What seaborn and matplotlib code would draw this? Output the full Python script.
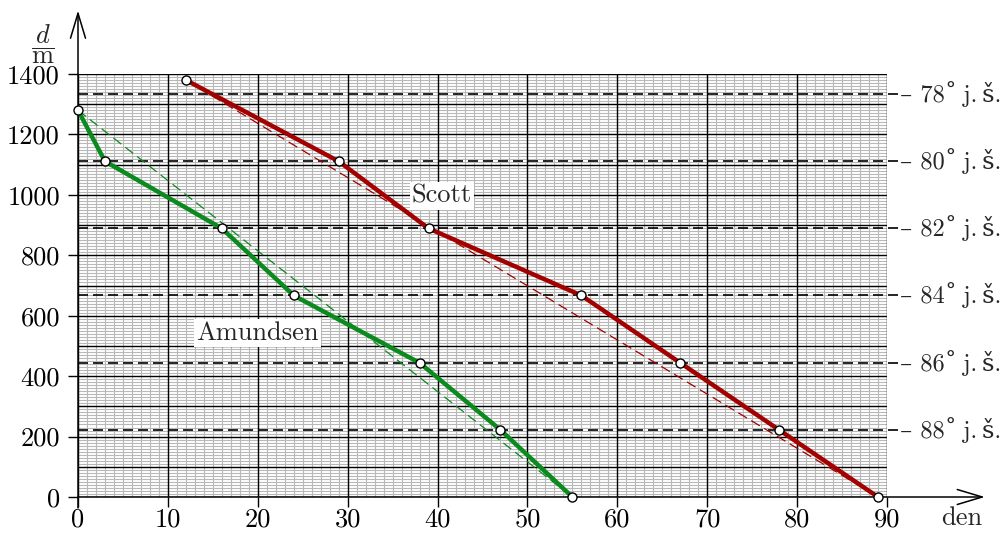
import numpy as np
import pandas as pd
import matplotlib
matplotlib.use("Agg")
from matplotlib import pyplot as plt
import seaborn as sns

# route data (day, distance to pole)
amundsen_day = [0, 3, 16, 24, 38, 47, 55]
amundsen_d = [1280, 1111, 889, 667, 444, 222, 0]
scott_day = [12, 29, 39, 56, 67, 78, 89]
scott_d = [1380, 1111, 889, 667, 444, 222, 0]

# latitude marks on the right
lat_labels = ["78", "80", "82", "84", "86", "88"]
lat_d = [1333, 1111, 889, 667, 444, 222]

x_ticks = list(range(0, 91, 10))
y_ticks = list(range(0, 1401, 200))

sns.set_style("ticks")
plt.rcParams["font.family"] = ["cmr10", "DejaVu Serif"]
plt.rcParams["mathtext.fontset"] = "cm"
plt.rcParams["axes.unicode_minus"] = False
plt.rcParams["axes.formatter.use_mathtext"] = True

FS = 19
green = "#0b8a1e"
red = "#a30000"

fig = plt.figure(figsize=(10.03, 5.36), dpi=100)
ax = fig.add_axes([0.07777, 0.07276, 0.80658, 0.78918])
ax.set_xlim(0, 90)
ax.set_ylim(0, 1400)
for s in ax.spines.values():
    s.set_visible(False)

# millimetre paper grid
ax.vlines(np.arange(0, 91, 1), 0, 1400, color="#b8b8b8", lw=0.8, zorder=0)
ax.hlines(np.arange(0, 1401, 10), 0, 90, color="#b8b8b8", lw=0.8, zorder=0)
ax.vlines(np.arange(0, 91, 10), 0, 1400, color="black", lw=1.0, zorder=1)
ax.hlines(np.arange(0, 1401, 100), 0, 90, color="black", lw=1.0, zorder=1)

# latitude lines and labels
for lab, d in zip(lat_labels, lat_d):
    ax.plot([0, 91.2], [d, d], color="black", lw=1.2, ls=(0, (6, 3)),
            zorder=2, clip_on=False)
    ax.text(91.4, d, "– " + lab + "\u02da\u2005j.\u2009š.", fontsize=FS - 1.5,
            va="center", ha="left", clip_on=False)

# straight reference lines start -> finish
sns.lineplot(x=[amundsen_day[0], amundsen_day[-1]], y=[amundsen_d[0], amundsen_d[-1]],
             color=green, lw=0.9, ax=ax, zorder=3, sort=False)
ax.lines[-1].set_dashes((8, 4))
sns.lineplot(x=[scott_day[0], scott_day[-1]], y=[scott_d[0], scott_d[-1]],
             color=red, lw=0.9, ax=ax, zorder=3, sort=False)
ax.lines[-1].set_dashes((8, 4))

# actual routes
for xs, ys, col in [(amundsen_day, amundsen_d, green), (scott_day, scott_d, red)]:
    sns.lineplot(x=xs, y=ys, color=col, lw=3.2, ax=ax, zorder=4, sort=False,
                 estimator=None)
    sns.lineplot(x=xs, y=ys, ax=ax, zorder=5, sort=False, estimator=None,
                 lw=0, marker="o", markersize=6.5, markerfacecolor="white",
                 markeredgecolor="black", markeredgewidth=1.0)
for ln in ax.lines:
    ln.set_clip_on(False)

box = dict(facecolor="white", edgecolor="none", pad=1.5)
ax.text(40.5, 996, "Scott", fontsize=FS, ha="center", va="center", bbox=box, zorder=6)
ax.text(20.0, 543, "Amundsen", fontsize=FS, ha="center", va="center", bbox=box, zorder=6)

# ticks
ax.set_xticks(x_ticks)
ax.set_xticklabels([str(v) for v in x_ticks])
ax.set_yticks(y_ticks)
ax.set_yticklabels([str(v) for v in y_ticks])
ax.tick_params(axis="both", direction="out", length=7, width=1.0, colors="black",
               labelsize=FS)
ax.tick_params(axis="x", pad=1)
ax.tick_params(axis="y", pad=6)
ax.set_xlabel("")
ax.set_ylabel("")

# axes with arrows
arrow = dict(arrowstyle="->,head_length=1.0,head_width=0.3", lw=1.1, color="black",
             shrinkA=0, shrinkB=0, mutation_scale=18)
ax.annotate("", xy=(0, 1.15), xytext=(0, -0.026), xycoords="axes fraction",
            arrowprops=arrow, annotation_clip=False)
ax.annotate("", xy=(1.121, 0), xytext=(0, 0), xycoords="axes fraction",
            arrowprops=arrow, annotation_clip=False)

fig.text(0.959, 0.034, "den", fontsize=FS, ha="center", va="center")
fig.text(0.043, 0.918, r"$\dfrac{d}{\mathrm{m}}$", fontsize=FS, ha="center", va="center")

fig.savefig("out.png", dpi=100)
